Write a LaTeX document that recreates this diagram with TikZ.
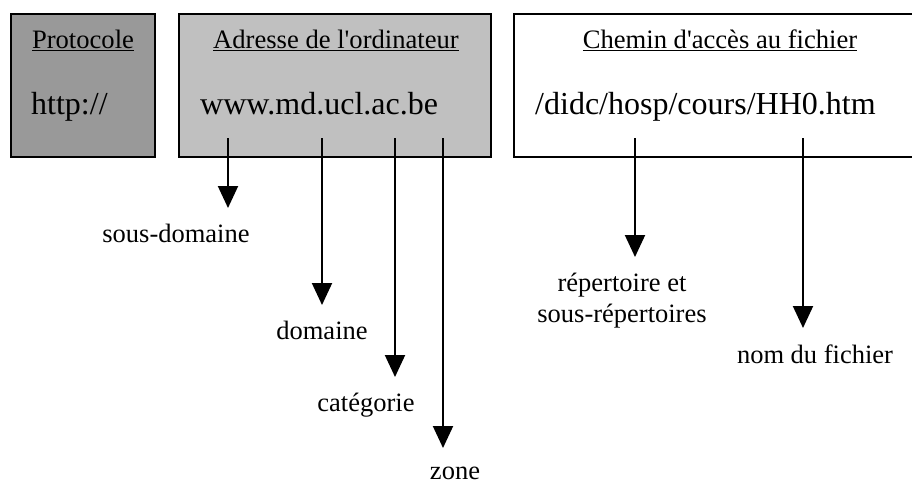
\documentclass[tikz,border=0pt]{standalone}
\usepackage{fontspec}
\setmainfont{Liberation Serif}
\usetikzlibrary{positioning, arrows.meta}
\tikzset{>={Triangle[width=20pt, length=22pt]}}
\definecolor{protofill}{HTML}{999999}
\definecolor{adrfill}{HTML}{C0C0C0}

\begin{document}
\begin{tikzpicture}
    [
        x=1pt, y=-1pt,
        part_box/.style={draw=black, line width=2pt},
        title_text/.style={inner sep=0pt, anchor=base, font=\fontsize{26.6}{30}\selectfont},
        url_text/.style={inner sep=0pt, anchor=base west, font=\fontsize{32}{36}\selectfont},
        part_label/.style={inner sep=0pt, anchor=base, align=center, font=\fontsize{26.5}{31}\selectfont},
        part_arrow/.style={->, line width=2pt},
    ]

  \clip (0,0) rectangle (912,484);

  \draw[part_box, fill=protofill] (11,14) rectangle (155,157);
  \draw[part_box, fill=adrfill] (179,14) rectangle (491,157);
  \draw[part_box, fill=white] (514,14) rectangle (930,157);

  \node[title_text] (proto) at (83,49) {\underline{Protocole}};
  \node[title_text] (adr) at (336,49) {\underline{Adresse de l\textquotesingle ordinateur}};
  \node[title_text] (chemin) at (720,49) {\underline{Chemin d\textquotesingle accès au fichier}};

  \node[url_text] (http) at (31,115) {http://};
  \node[url_text] (host) at (200,115) {www.md.ucl.ac.be};
  \node[url_text] (path) at (535,115) {/didc/hosp/cours/HH0.htm};

  \coordinate (sub) at (228,138);
  \coordinate (dom) at (322,138);
  \coordinate (cat) at (395,138);
  \coordinate (zon) at (443,138);
  \coordinate (rep) at (635,138);
  \coordinate (fic) at (803,138);

  \coordinate (sub_tip) at (228,208);
  \coordinate (dom_tip) at (322,305);
  \coordinate (cat_tip) at (395,377);
  \coordinate (zon_tip) at (443,448);
  \coordinate (rep_tip) at (635,257);
  \coordinate (fic_tip) at (803,328);

  \node[part_label] (sous_domaine) at (176,242) {sous-domaine};
  \node[part_label] (domaine) at (322,339) {domaine};
  \node[part_label] (categorie) at (366,411) {catégorie};
  \node[part_label] (zone) at (455,479) {zone};
  \node[part_label] (repertoire) at (622,322) {répertoire et\\sous-répertoires};
  \node[part_label] (nom_fichier) at (815,363) {nom du fichier};

  \draw[part_arrow] (sub) -- (sub_tip);
  \draw[part_arrow] (dom) -- (dom_tip);
  \draw[part_arrow] (cat) -- (cat_tip);
  \draw[part_arrow] (zon) -- (zon_tip);
  \draw[part_arrow] (rep) -- (rep_tip);
  \draw[part_arrow] (fic) -- (fic_tip);
\end{tikzpicture}
\end{document}
